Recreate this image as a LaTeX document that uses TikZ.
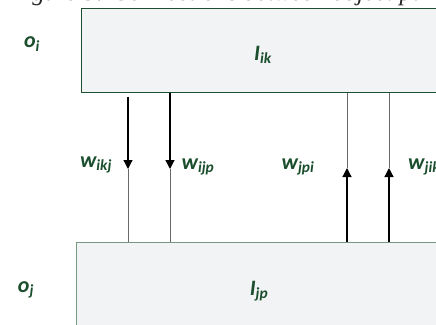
\documentclass[tikz,border=0pt]{standalone}
\usepackage{fontspec}
\setmainfont{Carlito}
\newfontfamily\capfont{Liberation Serif}
\usetikzlibrary{arrows.meta}
\definecolor{labgreen}{RGB}{26,78,44}
\definecolor{topgreen}{RGB}{30,78,50}
\definecolor{botgreen}{RGB}{118,152,128}
\definecolor{boxfill}{RGB}{242,243,245}
\definecolor{thingray}{RGB}{105,105,105}
\tikzset{
  lab/.style={text=labgreen, font=\fontsize{22}{24}\selectfont\bfseries\itshape, inner sep=0pt},
  boxshape/.style={fill=boxfill, inner sep=0pt, anchor=north west},
  strong/.style={draw=black, line width=1.2pt, -{Triangle[length=9pt,width=9pt]}},
  faint/.style={draw=thingray, line width=0.8pt},
}
\begin{document}
\begin{tikzpicture}[x=1pt,y=-1pt]
\useasboundingbox (0,0) rectangle (436,324);
\begin{scope}
\clip (0,0) rectangle (436,324);
\node[anchor=base west, inner sep=0pt, font=\capfont\fontsize{25}{25}\selectfont\itshape, text=black!85] (cap) at (10,1) {Figure 3: Connections between object pairs};
\node[boxshape, draw=topgreen, line width=0.9pt, minimum width=362pt, minimum height=84pt] (top) at (81,8) {};
\node[boxshape, draw=botgreen, line width=1.2pt, minimum width=364pt, minimum height=96pt] (bot) at (76,242) {};
\node[lab] (oi) at (32,44) {o\textsubscript{i}};
\node[lab] (oj) at (26,290) {o\textsubscript{j}};
\node[lab] (Iik) at (263,55) {I\textsubscript{ik}};
\node[lab] (Ijp) at (259,291) {I\textsubscript{jp}};
\node[lab] (w1) at (96,165) {w\textsubscript{ikj}};
\node[lab] (w2) at (198,167) {w\textsubscript{ijp}};
\node[lab] (w3) at (298,167) {w\textsubscript{jpi}};
\node[lab, anchor=west] (w4) at (408,167) {w\textsubscript{jik}};
% connector coordinates
\coordinate (s1) at (128,96.5);
\coordinate (t1) at (128,169);
\coordinate (t2) at (170,169);
\coordinate (t3) at (347,168);
\coordinate (t4) at (389,168);
% downward connectors
\draw[strong] (s1) -- (t1);
\draw[faint] (t1) -- (t1 |- bot.north);
\draw[strong] (top.south -| t2) -- (t2);
\draw[faint] (t2) -- (t2 |- bot.north);
% upward connectors
\draw[faint] (top.south -| t3) -- (t3);
\draw[strong] (bot.north -| t3) -- (t3);
\draw[faint] (top.south -| t4) -- (t4);
\draw[strong] (bot.north -| t4) -- (t4);
\end{scope}
\end{tikzpicture}
\end{document}
